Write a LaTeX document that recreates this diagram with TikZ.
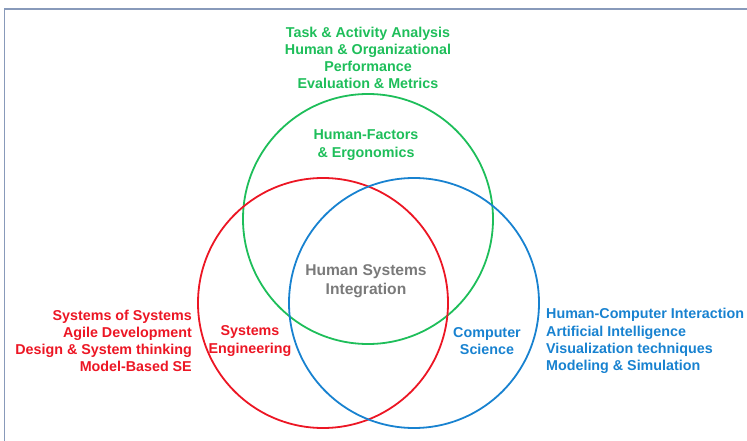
\documentclass[tikz,border=0pt]{standalone}
\usepackage{fontspec}
\setmainfont{Liberation Sans}
\usetikzlibrary{positioning}

\definecolor{hfgreen}{RGB}{30,190,90}
\definecolor{sered}{RGB}{236,22,36}
\definecolor{csblue}{RGB}{24,130,208}
\definecolor{hsigray}{RGB}{122,122,122}
\definecolor{framegray}{RGB}{136,154,186}

\tikzset{
  field/.style={draw, circle, minimum size=250pt, line width=1.8pt},
  lbl/.style={align=center, inner sep=0pt, font=\bfseries\fontsize{14.3}{17.2}\selectfont}
}

\begin{document}
\begin{tikzpicture}[x=1pt, y=-1pt, node distance=2cm, >=latex]
        \useasboundingbox (0,0) rectangle (747,441);
        % Frame
        \draw[framegray, line width=1.5pt] (4.5,441) -- (4.5,9) -- (747,9);
        % Circles
        \node[field, draw=hfgreen] (hf) at (368,219) {};
        \node[field, draw=sered] (se) at (323,303) {};
        \node[field, draw=csblue] (cs) at (414,303) {};
        % Circle labels
        \node[lbl, hfgreen] (hflabel) at (366,145) {Human-Factors\\\& Ergonomics};
        \node[lbl, sered] (selabel) at (250,341) {Systems\\Engineering};
        \node[lbl, csblue] (cslabel) at (487,341) {Computer\\Science};
        \node[lbl, hsigray, font=\bfseries\fontsize{15.6}{19}\selectfont] (hsi) at (366,281) {Human Systems\\Integration};
        % Topic lists
        \node[lbl, hfgreen, above=4pt of hf] (hftopics) {Task \& Activity Analysis\\Human \& Organizational\\Performance\\Evaluation \& Metrics};
        \node[lbl, sered, align=right, anchor=east] (setopics) at (192,341) {Systems of Systems\\Agile Development\\Design \& System thinking\\Model-Based SE};
        \node[lbl, csblue, align=left, anchor=west] (cstopics) at (546,341) {Human-Computer Interaction\\Artificial Intelligence\\Visualization techniques\\Modeling \& Simulation};
    \end{tikzpicture}
\end{document}
